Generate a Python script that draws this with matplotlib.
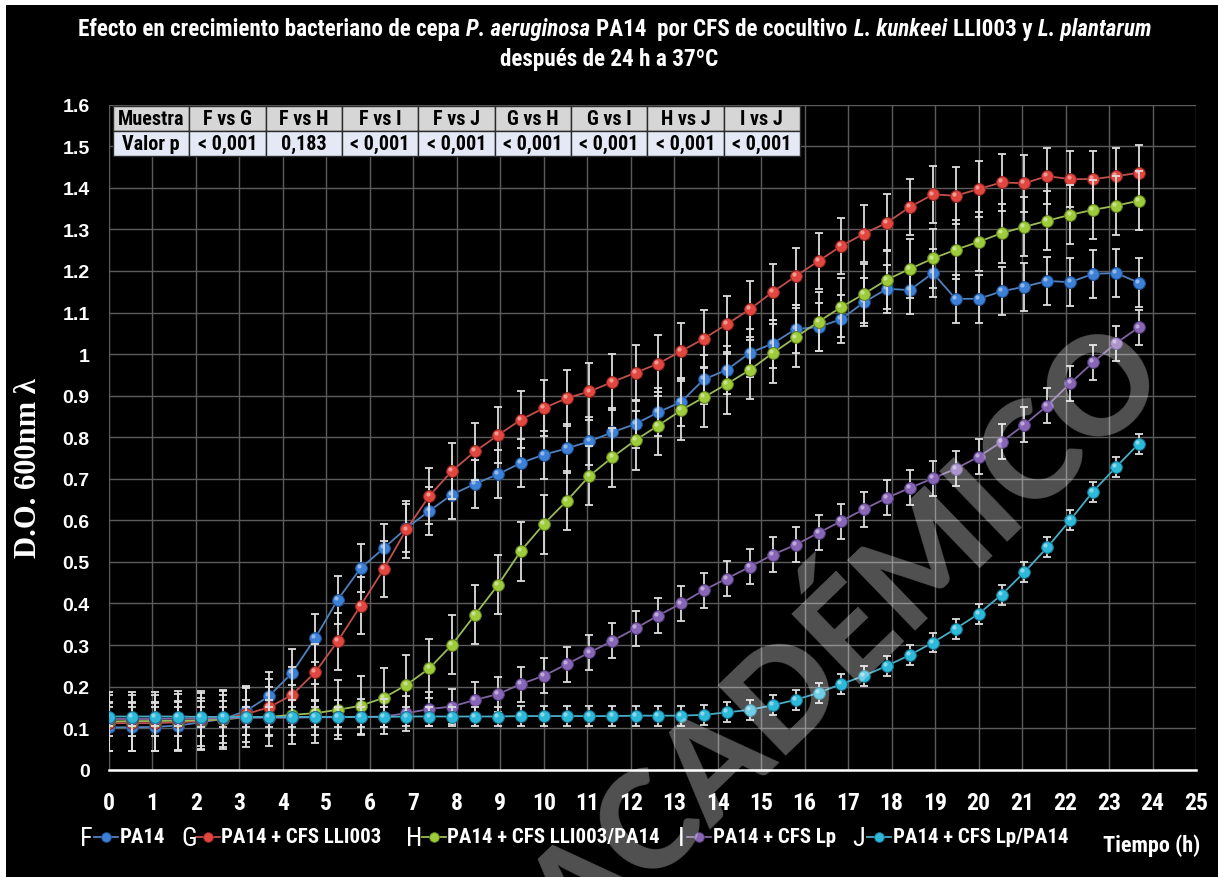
import matplotlib
matplotlib.use("Agg")
import matplotlib.pyplot as plt
from matplotlib import font_manager as fm
from matplotlib.patches import Rectangle
from matplotlib.lines import Line2D
from matplotlib.transforms import offset_copy

# ---------------- data ----------------
time_h = [0.00, 0.53, 1.05, 1.58, 2.11, 2.63, 3.16, 3.68, 4.21, 4.74,
          5.26, 5.79, 6.32, 6.84, 7.37, 7.89, 8.42, 8.95, 9.47, 10.00,
          10.53, 11.05, 11.58, 12.11, 12.63, 13.16, 13.68, 14.21, 14.74, 15.26,
          15.79, 16.32, 16.84, 17.37, 17.89, 18.42, 18.95, 19.47, 20.00, 20.53,
          21.05, 21.58, 22.11, 22.63, 23.16, 23.68]

F_pa14 = [0.102, 0.102, 0.103, 0.106, 0.114, 0.122, 0.142, 0.177, 0.233, 0.316,
          0.409, 0.485, 0.533, 0.581, 0.623, 0.662, 0.688, 0.711, 0.738, 0.758,
          0.773, 0.790, 0.812, 0.832, 0.860, 0.885, 0.939, 0.962, 1.003, 1.025,
          1.060, 1.065, 1.084, 1.125, 1.157, 1.154, 1.195, 1.133, 1.133, 1.151,
          1.162, 1.176, 1.173, 1.193, 1.195, 1.172]
G_lli003 = [0.112, 0.112, 0.112, 0.114, 0.117, 0.122, 0.134, 0.150, 0.180, 0.234,
            0.309, 0.395, 0.483, 0.578, 0.659, 0.719, 0.766, 0.805, 0.842, 0.870,
            0.894, 0.910, 0.933, 0.955, 0.977, 1.007, 1.037, 1.072, 1.108, 1.149,
            1.187, 1.224, 1.260, 1.290, 1.316, 1.354, 1.384, 1.381, 1.397, 1.413,
            1.411, 1.428, 1.421, 1.421, 1.428, 1.436]
H_lli003_pa14 = [0.116, 0.117, 0.117, 0.118, 0.119, 0.121, 0.126, 0.127, 0.132, 0.136,
                 0.144, 0.154, 0.173, 0.204, 0.244, 0.301, 0.373, 0.445, 0.526, 0.591,
                 0.647, 0.707, 0.752, 0.793, 0.828, 0.865, 0.896, 0.928, 0.962, 1.002,
                 1.040, 1.078, 1.113, 1.145, 1.179, 1.205, 1.230, 1.251, 1.270, 1.291,
                 1.306, 1.321, 1.335, 1.347, 1.357, 1.369]
I_lp = [0.122, 0.122, 0.122, 0.123, 0.123, 0.124, 0.125, 0.125, 0.125, 0.126,
        0.126, 0.127, 0.128, 0.136, 0.146, 0.152, 0.168, 0.182, 0.206, 0.226,
        0.254, 0.282, 0.310, 0.340, 0.371, 0.400, 0.432, 0.460, 0.488, 0.517,
        0.541, 0.570, 0.598, 0.627, 0.654, 0.678, 0.701, 0.724, 0.753, 0.789,
        0.830, 0.876, 0.930, 0.980, 1.026, 1.064]
J_lp_pa14 = [0.128, 0.128, 0.128, 0.128, 0.127, 0.127, 0.127, 0.127, 0.127, 0.127,
             0.127, 0.127, 0.127, 0.128, 0.128, 0.128, 0.128, 0.128, 0.129, 0.129,
             0.129, 0.129, 0.129, 0.130, 0.130, 0.130, 0.132, 0.138, 0.144, 0.155,
             0.168, 0.185, 0.206, 0.226, 0.250, 0.276, 0.306, 0.339, 0.375, 0.421,
             0.475, 0.535, 0.601, 0.669, 0.728, 0.784]

# error bar half-lengths (constant per series)
err_F = 0.058
err_G = 0.068
err_H = 0.071
err_I = 0.042
err_J = 0.024

series_letters = ["F", "G", "H", "I", "J"]
series_names = ["PA14", "PA14 + CFS LLI003", "PA14 + CFS LLI003/PA14",
                "PA14 + CFS Lp", "PA14 + CFS Lp/PA14"]

table_header = ["Muestra", "F vs G", "F vs H", "F vs I", "F vs J",
                "G vs H", "G vs I", "H vs J", "I vs J"]
table_values = ["Valor p", "< 0,001", "0,183", "< 0,001", "< 0,001",
                "< 0,001", "< 0,001", "< 0,001", "< 0,001"]

x_ticks = list(range(0, 26))
y_ticks = [0, 0.1, 0.2, 0.3, 0.4, 0.5, 0.6, 0.7, 0.8, 0.9, 1.0,
           1.1, 1.2, 1.3, 1.4, 1.5, 1.6]
y_ticklabels = ["0", "0.1", "0.2", "0.3", "0.4", "0.5", "0.6", "0.7", "0.8", "0.9",
                "1", "1.1", "1.2", "1.3", "1.4", "1.5", "1.6"]


# ---------------- fonts ----------------
def pick(*fams):
    for f in fams:
        try:
            fm.findfont(fm.FontProperties(family=f), fallback_to_default=False)
            return f
        except Exception:
            pass
    return "DejaVu Sans"


NARROW = pick("Liberation Sans Narrow", "Roboto Condensed", "Open Sans Condensed",
              "DejaVu Sans Condensed", "Liberation Sans")
ARIAL = pick("Liberation Sans", "Arial", "DejaVu Sans")
SERIF = pick("Liberation Serif", "DejaVu Serif")
ROUND = pick("Lato", "Open Sans", "DejaVu Sans")

W, H = 1218, 878
fig = plt.figure(figsize=(W / 100, H / 100), dpi=100, facecolor="white")
fig.patches.append(Rectangle((6 / W, 0), 1, (H - 6) / H, transform=fig.transFigure,
                             facecolor="black", edgecolor="none", zorder=-10))


def fx(px):
    return px / W


def fy(py):
    return (H - py) / H


ax = fig.add_axes([fx(109), fy(770.7), (1196 - 109) / W, (770.7 - 105.7) / H])
ax.set_facecolor("black")
ax.set_xlim(0, 25)
ax.set_ylim(0, 1.6)
ax.set_xticks(x_ticks)
ax.set_yticks(y_ticks)
ax.set_yticklabels(y_ticklabels)
ax.grid(True, color="#5c5c5c", lw=1.0, zorder=0)
ax.set_axisbelow(True)
for s in ax.spines.values():
    s.set_visible(False)
ax.plot([0, 25], [0, 0], color="white", lw=1.8, clip_on=False, zorder=3)
ax.tick_params(axis="both", length=0, colors="white")
ax.tick_params(axis="y", pad=14)
ax.tick_params(axis="x", pad=15)
for lab in ax.get_yticklabels():
    lab.set_fontfamily(ARIAL)
    lab.set_fontweight("bold")
    lab.set_fontsize(14)
for lab in ax.get_xticklabels():
    lab.set_fontfamily(NARROW)
    lab.set_fontweight("bold")
    lab.set_fontsize(17)

fig.text(fx(29), fy(468), "D.O. 600nm \u03bb", rotation=90, ha="center", va="center",
         color="white", fontsize=22, fontweight="bold", family=[SERIF, "DejaVu Serif"])

# ---------------- series ----------------
styles = [
    (F_pa14, err_F, "#4f81bd", "#3d80d8", "#1d4f8f"),
    (G_lli003, err_G, "#c0504d", "#e2473f", "#8e2320"),
    (H_lli003_pa14, err_H, "#9bbb59", "#9dcb3a", "#5f7d1c"),
    (I_lp, err_I, "#8064a2", "#8766b8", "#4f3872"),
    (J_lp_pa14, err_J, "#4bacc6", "#2db9da", "#15708a"),
]
hl = offset_copy(ax.transData, fig=fig, x=-1.3, y=1.4, units="points")
for k, (yv, ev, lc, mc, ec) in enumerate(styles):
    z = 4 + k
    ax.errorbar(time_h, yv, yerr=ev, fmt="none", ecolor="#dedede", elinewidth=1.3,
                capsize=2.8, capthick=1.3, zorder=z)
    ax.plot(time_h, yv, "-", color=lc, lw=1.3, marker="o", ms=8.5, mfc=mc, mec=ec,
            mew=0.7, zorder=z + 0.3)
    ax.plot(time_h, yv, "o", ms=3, color="white", alpha=0.45, mec="none",
            transform=hl, zorder=z + 0.5)

# ---------------- table ----------------
tbl = ax.table(cellText=[table_header, table_values], cellLoc="center",
               bbox=[4 / 1087, (770.7 - 157) / 665, 687 / 1087, 50 / 665], zorder=20)
tbl.auto_set_font_size(False)
for (r, c), cell in tbl.get_celld().items():
    cell.set_facecolor("#d6d6d6" if r == 0 else "#e4e9f5")
    cell.set_edgecolor("#2a2a2a")
    cell.set_linewidth(1.0)
    t = cell.get_text()
    t.set_fontfamily(NARROW)
    t.set_fontweight("bold")
    t.set_fontsize(14.5)
    t.set_color("black")

# ---------------- title ----------------
TS = 16.7
pieces = [("Efecto en crecimiento bacteriano de cepa", "normal"),
          ("P. aeruginosa", "italic"),
          ("PA14  por CFS de cocultivo", "normal"),
          ("L. kunkeei", "italic"),
          ("LLI003 y", "normal"),
          ("L. plantarum", "italic")]
title_texts = []
prev = None
for txt, st in pieces:
    if prev is None:
        tt = fig.text(0.5, fy(41), txt, ha="left", va="bottom", color="white",
                      fontsize=TS, fontweight="bold", fontstyle=st, family=NARROW)
    else:
        tt = ax.annotate(txt, xy=(1, 0), xycoords=prev, xytext=(4.3, 0),
                         textcoords="offset points", ha="left", va="bottom",
                         color="white", fontsize=TS, fontweight="bold",
                         fontstyle=st, family=NARROW, annotation_clip=False)
    title_texts.append(tt)
    prev = tt
fig.text(0.5, fy(71), "después de 24 h a 37ºC", ha="center", va="bottom", color="white",
         fontsize=TS, fontweight="bold", family=NARROW)

# ---------------- legend ----------------
LY = 838
leg_letter_x = [86, 189, 414, 681, 859]
leg_marker_x = [106, 208, 434, 699, 879]
leg_text_x = [120, 221, 447, 713, 893]
for k in range(5):
    _, _, lc, mc, ec = styles[k]
    fig.text(fx(leg_letter_x[k]), fy(LY + 1), series_letters[k], ha="center", va="center",
             color="white", fontsize=19, family=NARROW)
    fig.add_artist(Line2D([fx(leg_marker_x[k] - 12), fx(leg_marker_x[k] + 12)],
                          [fy(LY), fy(LY)], color=lc, lw=1.3,
                          transform=fig.transFigure))
    fig.add_artist(Line2D([fx(leg_marker_x[k])], [fy(LY)], marker="o", ms=7,
                          mfc=mc, mec=ec, mew=0.6, transform=fig.transFigure))
    fig.text(fx(leg_text_x[k]), fy(LY), series_names[k], ha="left", va="center",
             color="white", fontsize=15, fontweight="bold", family=NARROW)
fig.text(fx(1152), fy(846), "Tiempo (h)", ha="center", va="center", color="white",
         fontsize=16, fontweight="bold", family=NARROW)

# ---------------- watermark ----------------
fig.text(fx(848), fy(640), "ACADÉMICO", rotation=44, ha="center", va="center",
         color="white", alpha=0.32, fontsize=97, fontweight="black",
         family=ROUND, zorder=30, rotation_mode="anchor")

# center title line 1
fig.canvas.draw()
r = fig.canvas.get_renderer()
x0 = title_texts[0].get_window_extent(r).x0
x1 = title_texts[-1].get_window_extent(r).x1
shift = (W / 2 + 6) - (x0 + x1) / 2
title_texts[0].set_x(title_texts[0].get_position()[0] + shift / W)

fig.savefig("out.png", dpi=100, facecolor=fig.get_facecolor())
